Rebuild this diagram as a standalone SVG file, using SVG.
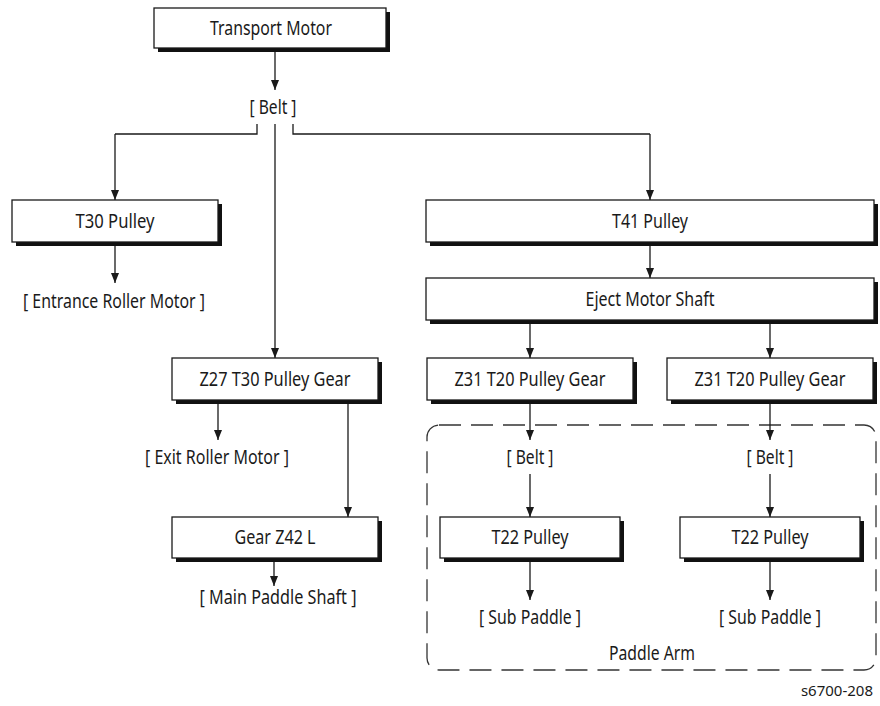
<svg xmlns="http://www.w3.org/2000/svg" width="880" height="706" viewBox="0 0 880 706">
<style>
text{font-family:"Noto Sans","Liberation Sans",Arial,sans-serif;font-size:20px;fill:#1a1a1a;text-anchor:middle}
.sh{fill:#111}
.bx{fill:#fff;stroke:#1a1a1a;stroke-width:1.3}
.ln{fill:none;stroke:#1a1a1a;stroke-width:1.3}
.ar{fill:none;stroke:#1a1a1a;stroke-width:1.3;marker-end:url(#ah)}
.small{font-size:15px;text-anchor:end}
</style>
<defs>
<marker id="ah" viewBox="0 0 10 10" refX="10" refY="5" markerWidth="10" markerHeight="10" markerUnits="userSpaceOnUse" orient="auto">
<path d="M0,1 L10,5 L0,9 Z" fill="#1a1a1a"/>
</marker>
</defs>
<g id="paddle-arm">
<rect x="427" y="425" width="449" height="245" rx="12" fill="none" stroke="#333" stroke-width="1.3" stroke-dasharray="22 10"/>
<text x="652" y="660" textLength="86" lengthAdjust="spacingAndGlyphs">Paddle Arm</text>
</g>
<g id="connectors">
<path class="ar" d="M275,52 V90"/>
<path class="ln" d="M257,124 V134 H115"/>
<path class="ar" d="M115,134 V200"/>
<path class="ln" d="M293,124 V134 H650"/>
<path class="ar" d="M650,134 V200"/>
<path class="ar" d="M275,124 V358"/>
<path class="ar" d="M115,246 V283"/>
<path class="ar" d="M650,246 V278"/>
<path class="ar" d="M530,324 V358"/>
<path class="ar" d="M770,324 V358"/>
<path class="ar" d="M218,404 V440"/>
<path class="ar" d="M348,404 V517"/>
<path class="ar" d="M530,404 V440"/>
<path class="ar" d="M770,404 V440"/>
<path class="ar" d="M530,474 V517"/>
<path class="ar" d="M770,474 V517"/>
<path class="ar" d="M274,562 V586"/>
<path class="ar" d="M530,562 V600"/>
<path class="ar" d="M770,562 V600"/>
</g>
<g id="transport-motor"><rect class="sh" x="158" y="12" width="232" height="40"/><rect class="bx" x="154" y="8" width="232" height="40"/><text x="271" y="35" textLength="122" lengthAdjust="spacingAndGlyphs">Transport Motor</text></g>
<g id="belt-top"><text x="273" y="114" textLength="47" lengthAdjust="spacingAndGlyphs">[ Belt ]</text></g>
<g id="t30-pulley"><rect class="sh" x="16" y="204" width="206" height="42"/><rect class="bx" x="12" y="200" width="206" height="42"/><text x="115" y="228" textLength="79" lengthAdjust="spacingAndGlyphs">T30 Pulley</text></g>
<g id="entrance-roller-motor"><text x="114" y="308" textLength="182" lengthAdjust="spacingAndGlyphs">[ Entrance Roller Motor ]</text></g>
<g id="t41-pulley"><rect class="sh" x="430" y="204" width="448" height="42"/><rect class="bx" x="426" y="200" width="448" height="42"/><text x="650" y="228" textLength="76" lengthAdjust="spacingAndGlyphs">T41 Pulley</text></g>
<g id="eject-motor-shaft"><rect class="sh" x="430" y="282" width="448" height="42"/><rect class="bx" x="426" y="278" width="448" height="42"/><text x="650" y="306" textLength="129" lengthAdjust="spacingAndGlyphs">Eject Motor Shaft</text></g>
<g id="z27-gear"><rect class="sh" x="176" y="362" width="206" height="42"/><rect class="bx" x="172" y="358" width="206" height="42"/><text x="275" y="386" textLength="151" lengthAdjust="spacingAndGlyphs">Z27 T30 Pulley Gear</text></g>
<g id="z31-gear-a"><rect class="sh" x="431" y="362" width="206" height="42"/><rect class="bx" x="427" y="358" width="206" height="42"/><text x="530" y="386" textLength="151" lengthAdjust="spacingAndGlyphs">Z31 T20 Pulley Gear</text></g>
<g id="z31-gear-b"><rect class="sh" x="671" y="362" width="206" height="42"/><rect class="bx" x="667" y="358" width="206" height="42"/><text x="770" y="386" textLength="151" lengthAdjust="spacingAndGlyphs">Z31 T20 Pulley Gear</text></g>
<g id="exit-roller-motor"><text x="217" y="464" textLength="144" lengthAdjust="spacingAndGlyphs">[ Exit Roller Motor ]</text></g>
<g id="belt-a"><text x="530" y="464" textLength="47" lengthAdjust="spacingAndGlyphs">[ Belt ]</text></g>
<g id="belt-b"><text x="770" y="464" textLength="47" lengthAdjust="spacingAndGlyphs">[ Belt ]</text></g>
<g id="gear-z42l"><rect class="sh" x="176" y="521" width="206" height="41"/><rect class="bx" x="172" y="517" width="206" height="41"/><text x="275" y="544" textLength="81" lengthAdjust="spacingAndGlyphs">Gear Z42 L</text></g>
<g id="t22-pulley-a"><rect class="sh" x="444" y="521" width="180" height="41"/><rect class="bx" x="440" y="517" width="180" height="41"/><text x="530" y="544" textLength="77" lengthAdjust="spacingAndGlyphs">T22 Pulley</text></g>
<g id="t22-pulley-b"><rect class="sh" x="684" y="521" width="180" height="41"/><rect class="bx" x="680" y="517" width="180" height="41"/><text x="770" y="544" textLength="77" lengthAdjust="spacingAndGlyphs">T22 Pulley</text></g>
<g id="main-paddle-shaft"><text x="278" y="604" textLength="157" lengthAdjust="spacingAndGlyphs">[ Main Paddle Shaft ]</text></g>
<g id="sub-paddle-a"><text x="530" y="624" textLength="102" lengthAdjust="spacingAndGlyphs">[ Sub Paddle ]</text></g>
<g id="sub-paddle-b"><text x="770" y="624" textLength="102" lengthAdjust="spacingAndGlyphs">[ Sub Paddle ]</text></g>
<g id="figure-id"><text class="small" x="873" y="696">s6700-208</text></g>
</svg>
